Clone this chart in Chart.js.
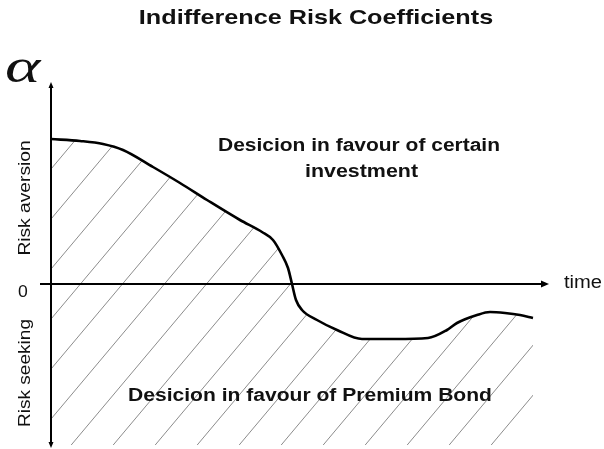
<!DOCTYPE html>
<html>
<head>
<meta charset="utf-8">
<script src="https://cdn.jsdelivr.net/npm/chart.js@4.4.1/dist/chart.umd.min.js"></script>
<style>
  html, body { margin: 0; padding: 0; background: #fff; }
  canvas { display: block; }
</style>
</head>
<body>
<canvas id="riskChart" width="604" height="449"></canvas>
<script>
// time axis (arbitrary units 0..100) and indifference risk coefficient alpha
const timePoints  = [0, 5.8, 10.4, 14.4, 20.4, 25.8, 31.2, 37.8, 42.2, 44.4, 46.2, 47.4, 48.2, 49.0, 50.2, 53.2, 57.2, 62.2, 68.8, 75.4, 79.2, 81.2, 85.2, 87.8, 90.8, 93.8, 96.4];
const alphaValues = [1.45, 1.43, 1.40, 1.34, 1.17, 1.01, 0.84, 0.64, 0.52, 0.44, 0.29, 0.16, 0.00, -0.16, -0.26, -0.36, -0.46, -0.55, -0.55, -0.54, -0.46, -0.39, -0.31, -0.28, -0.29, -0.31, -0.34];

const chartTitle = 'Indifference Risk Coefficients';
const upperRegionLabel = ['Desicion in favour of certain', 'investment'];
const lowerRegionLabel = 'Desicion in favour of Premium Bond';
const xAxisLabel = 'time';
const yAxisSymbol = '\u03B1';
const upperSideLabel = 'Risk aversion';
const lowerSideLabel = 'Risk seeking';
const zeroLabel = '0';

const SANS = "'Liberation Sans', Arial, sans-serif";

// diagonal hatch pattern for the area under the curve
function makeHatch(ctx) {
    const tile = document.createElement('canvas');
    tile.width = 42;
    tile.height = 50;
    const t = tile.getContext('2d');
    t.strokeStyle = '#8c8c8c';
    t.lineWidth = 1;
    [-17, 25, 67].forEach(c => {
        t.beginPath();
        t.moveTo(c, 0);
        t.lineTo(c - 42, 50);
        t.stroke();
    });
    return ctx.createPattern(tile, 'repeat');
}

// text in the original figure is a bit wider than the font, so stretch it
function stretchedText(ctx, text, x, y, sx, angle) {
    ctx.save();
    ctx.translate(x, y);
    if (angle) ctx.rotate(angle);
    ctx.scale(sx, 1);
    ctx.fillText(text, 0, 0);
    ctx.restore();
}

const decorations = {
    id: 'decorations',
    afterDatasetsDraw(chart) {
        const ctx = chart.ctx;
        const xs = chart.scales.x;
        const ys = chart.scales.y;
        const x0 = xs.getPixelForValue(0);
        const y0 = ys.getPixelForValue(0);
        const yTop = ys.getPixelForValue(2.02);
        const yBot = ys.getPixelForValue(-1.64);
        const xLeft = xs.getPixelForValue(-2.2);
        const xRight = xs.getPixelForValue(99.6);

        ctx.save();
        ctx.strokeStyle = '#000';
        ctx.fillStyle = '#000';
        ctx.lineWidth = 2;

        // vertical axis
        ctx.beginPath();
        ctx.moveTo(x0, yTop + 4);
        ctx.lineTo(x0, yBot - 4);
        ctx.stroke();
        ctx.beginPath();
        ctx.moveTo(x0, yTop);
        ctx.lineTo(x0 - 2.5, yTop + 6);
        ctx.lineTo(x0 + 2.5, yTop + 6);
        ctx.closePath();
        ctx.fill();
        ctx.beginPath();
        ctx.moveTo(x0, yBot);
        ctx.lineTo(x0 - 2.5, yBot - 6);
        ctx.lineTo(x0 + 2.5, yBot - 6);
        ctx.closePath();
        ctx.fill();

        // horizontal axis
        ctx.beginPath();
        ctx.moveTo(xLeft, y0);
        ctx.lineTo(xRight - 6, y0);
        ctx.stroke();
        ctx.beginPath();
        ctx.moveTo(xRight, y0);
        ctx.lineTo(xRight - 8, y0 - 3.5);
        ctx.lineTo(xRight - 8, y0 + 3.5);
        ctx.closePath();
        ctx.fill();
        ctx.restore();
    },
    afterDraw(chart) {
        const ctx = chart.ctx;
        const xs = chart.scales.x;
        const ys = chart.scales.y;
        ctx.save();
        ctx.fillStyle = '#111';
        ctx.textAlign = 'center';
        ctx.textBaseline = 'middle';

        ctx.font = 'bold 21px ' + SANS;
        stretchedText(ctx, chartTitle, 316, 18, 1.2);

        ctx.font = 'bold 18px ' + SANS;
        stretchedText(ctx, upperRegionLabel[0], xs.getPixelForValue(61.6), ys.getPixelForValue(1.38), 1.165);
        stretchedText(ctx, upperRegionLabel[1], xs.getPixelForValue(62.1), ys.getPixelForValue(1.12), 1.19);
        stretchedText(ctx, lowerRegionLabel, xs.getPixelForValue(51.8), ys.getPixelForValue(-1.12), 1.17);

        ctx.font = '18px ' + SANS;
        ctx.textAlign = 'left';
        stretchedText(ctx, xAxisLabel, 564, ys.getPixelForValue(0.01), 1.12);
        ctx.font = '16px ' + SANS;
        ctx.textAlign = 'center';
        stretchedText(ctx, zeroLabel, 23, ys.getPixelForValue(-0.09), 1.1);

        ctx.font = 'italic 48px "Liberation Serif", "DejaVu Serif", serif';
        ctx.textAlign = 'left';
        ctx.textBaseline = 'alphabetic';
        stretchedText(ctx, yAxisSymbol, 5, 82, 1.4);

        ctx.font = '16px ' + SANS;
        ctx.textAlign = 'center';
        ctx.textBaseline = 'middle';
        stretchedText(ctx, upperSideLabel, 26, ys.getPixelForValue(0.86), 1.2, -Math.PI / 2);
        stretchedText(ctx, lowerSideLabel, 26, ys.getPixelForValue(-0.89), 1.19, -Math.PI / 2);
        ctx.restore();
    }
};

const canvas = document.getElementById('riskChart');
const ctx = canvas.getContext('2d');

new Chart(ctx, {
    type: 'line',
    data: {
        datasets: [{
            data: timePoints.map((t, i) => ({ x: t, y: alphaValues[i] })),
            borderColor: '#000',
            borderWidth: 2.6,
            backgroundColor: makeHatch(ctx),
            fill: { value: -1.61 },
            pointRadius: 0,
            cubicInterpolationMode: 'monotone'
        }]
    },
    options: {
        responsive: false,
        animation: false,
        layout: { padding: { left: 51, right: 53, top: 82, bottom: 1 } },
        plugins: {
            legend: { display: false },
            title: { display: false },
            tooltip: { enabled: false }
        },
        scales: {
            x: { type: 'linear', min: 0, max: 100, display: false },
            y: { type: 'linear', min: -1.64, max: 2.02, display: false }
        }
    },
    plugins: [decorations]
});
</script>
</body>
</html>
